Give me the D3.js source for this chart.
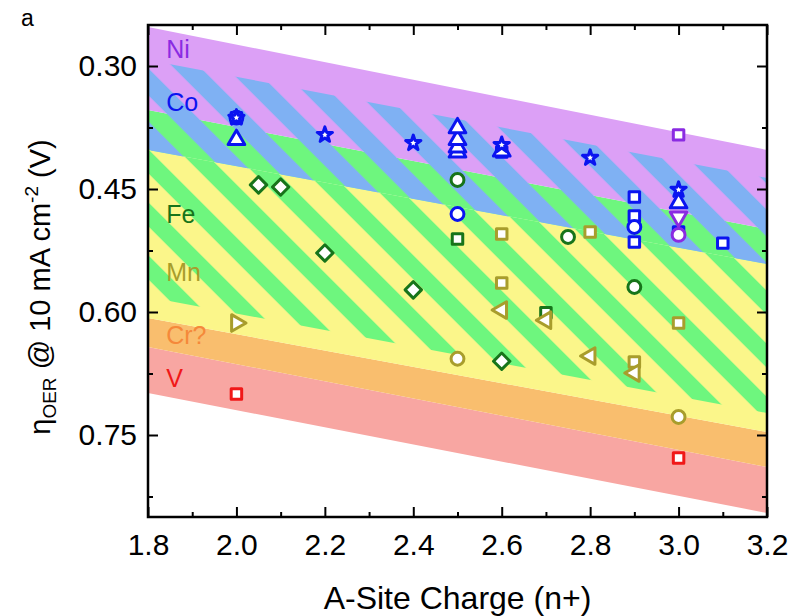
<!DOCTYPE html>
<html>
<head>
<meta charset="utf-8">
<script src="https://cdn.jsdelivr.net/npm/d3@7"></script>
<style>
  body { margin: 0; background: #fff; }
  svg { display: block; font-family: "Liberation Sans", Arial, sans-serif; }
</style>
</head>
<body>
<svg id="chart" width="795" height="616"></svg>
<script>
// Axis ticks
const xMajor = [1.8, 2.0, 2.2, 2.4, 2.6, 2.8, 3.0, 3.2];
const xMinor = [1.9, 2.1, 2.3, 2.5, 2.7, 2.9, 3.1];
const yMajor = [0.30, 0.45, 0.60, 0.75];
const yMinor = [0.375, 0.525, 0.675, 0.825];

// Band edges: overpotential at A-site charge 1.8 and 3.2
const edgeX = [1.8, 3.2];
const niTop = [0.2524, 0.4024];
const coTop = [0.2927, 0.4366];
const niBottom = [0.3537, 0.4988];
const mnTop = [0.4024, 0.5415];
const feStripeBottom = [0.5817, 0.7232];
const crTop = [0.6073, 0.7463];
const vTop = [0.6427, 0.7890];
const vBottom = [0.6988, 0.8451];

// Measured points: [A-site charge, eta (V), marker]
const coPoints = [
  [2.0, 0.363, 'square'], [2.0, 0.363, 'circle'], [2.0, 0.363, 'star'], [2.0, 0.390, 'triUp'],
  [2.2, 0.384, 'star'], [2.4, 0.394, 'star'],
  [2.5, 0.405, 'triUp'], [2.5, 0.399, 'triUp'], [2.5, 0.390, 'triUp'], [2.5, 0.3756, 'triUp'],
  [2.5, 0.4805, 'circle'],
  [2.6, 0.405, 'square'], [2.6, 0.404, 'triUp'], [2.6, 0.3963, 'star'],
  [2.8, 0.412, 'star'],
  [2.9, 0.4598, 'square'], [2.9, 0.483, 'square'], [2.9, 0.5146, 'square'], [2.9, 0.4963, 'circle'],
  [3.0, 0.5024, 'square'], [3.0, 0.467, 'triUp'], [3.0, 0.451, 'star'],
  [3.1, 0.516, 'square']
];
const niPoints = [
  [3.0, 0.384, 'square'], [3.0, 0.484, 'triDown'], [3.0, 0.506, 'circle']
];
const fePoints = [
  [2.05, 0.445, 'diamond'], [2.1, 0.4476, 'diamond'], [2.2, 0.528, 'diamond'],
  [2.4, 0.573, 'diamond'], [2.6, 0.660, 'diamond'],
  [2.5, 0.439, 'circle'], [2.5, 0.511, 'square'], [2.75, 0.5085, 'circle'],
  [2.9, 0.5695, 'circle'], [2.7, 0.601, 'square']
];
const mnPoints = [
  [2.0, 0.6134, 'triRight'], [2.5, 0.657, 'circle'],
  [2.6, 0.505, 'square'], [2.6, 0.5646, 'square'], [2.6, 0.5976, 'triLeft'],
  [2.7, 0.610, 'triLeft'], [2.8, 0.5024, 'square'], [2.8, 0.6537, 'triLeft'],
  [2.9, 0.661, 'square'], [2.9, 0.6744, 'triLeft'],
  [3.0, 0.6134, 'square'], [3.0, 0.728, 'circle']
];
const vPoints = [
  [2.0, 0.700, 'square'], [3.0, 0.778, 'square']
];

// Element labels: [text, charge, eta]
const elementLabels = [
  ['Ni', 1.841, 0.2902], ['Co', 1.841, 0.3549], ['Fe', 1.841, 0.4915],
  ['Mn', 1.841, 0.5622], ['Cr?', 1.841, 0.6390], ['V', 1.841, 0.6915]
];

const colors = {
  Ni: '#8a2be2', Co: '#0a14f0', Fe: '#17741a', Mn: '#a89d2c', 'Cr?': '#f5893a', V: '#f01818'
};

const margin = {top: 25, right: 28, bottom: 99, left: 148};
const width = 795 - margin.left - margin.right;
const height = 616 - margin.top - margin.bottom;

const svg = d3.select('#chart');
const x = d3.scaleLinear().domain([1.8, 3.2]).range([0, width]);
const y = d3.scaleLinear().domain([0.25, 0.85]).range([0, height]);

const defs = svg.append('defs');
defs.append('clipPath').attr('id', 'plotClip')
  .append('rect').attr('width', width).attr('height', height);

// stripe patterns, 45 degrees, 53px horizontal period
const period = 53 / Math.SQRT2;
const green = defs.append('pattern').attr('id', 'greenStripes')
  .attr('patternUnits', 'userSpaceOnUse')
  .attr('width', period).attr('height', period)
  .attr('patternTransform', 'rotate(-45)');
green.append('rect').attr('x', 11 / Math.SQRT2).attr('width', 24 / Math.SQRT2)
  .attr('height', period).attr('fill', '#6ef67e');

const blue = defs.append('pattern').attr('id', 'blueStripes')
  .attr('patternUnits', 'userSpaceOnUse')
  .attr('width', period).attr('height', period)
  .attr('patternTransform', 'rotate(-45)');
[36 / Math.SQRT2, 36 / Math.SQRT2 - period].forEach(x0 => {
  blue.append('rect').attr('x', x0).attr('width', 27 / Math.SQRT2)
    .attr('height', period).attr('fill', '#7fb1f3');
});

const g = svg.append('g').attr('transform', `translate(${margin.left},${margin.top})`);
const bands = g.append('g').attr('clip-path', 'url(#plotClip)');

function bandPoints(top, bot) {
  return [
    [x(edgeX[0]), y(top[0])], [x(edgeX[1]), y(top[1])],
    [x(edgeX[1]), y(bot[1])], [x(edgeX[0]), y(bot[0])]
  ].join(' ');
}

const bandList = [
  [vTop, vBottom, '#f8a6a2'],
  [crTop, vTop, '#f9be6e'],
  [mnTop, crTop, '#fbf68a'],
  [niBottom, mnTop, '#6ef67e'],
  [niTop, niBottom, '#dca0f6'],
  [mnTop, feStripeBottom, 'url(#greenStripes)'],
  [coTop, mnTop, 'url(#blueStripes)']
];
bands.selectAll('polygon').data(bandList).enter().append('polygon')
  .attr('points', d => bandPoints(d[0], d[1]))
  .attr('fill', d => d[2]);

// element labels
g.append('g').selectAll('text').data(elementLabels).enter().append('text')
  .attr('x', d => x(d[1])).attr('y', d => y(d[2]))
  .attr('fill', d => colors[d[0]])
  .attr('font-size', 25)
  .text(d => d[0]);

// markers
const symbolSize = {square: 110, circle: 130, star: 72, triUp: 120, triDown: 120,
  triLeft: 120, triRight: 120, diamond: 135};
const symbolType = {square: d3.symbolSquare, circle: d3.symbolCircle, star: d3.symbolStar,
  triUp: d3.symbolTriangle, triDown: d3.symbolTriangle, triLeft: d3.symbolTriangle,
  triRight: d3.symbolTriangle, diamond: d3.symbolSquare};
const symbolRotate = {triDown: 180, triLeft: -90, triRight: 90, diamond: 45};

function drawPoints(points, color) {
  g.append('g').selectAll('path').data(points).enter().append('path')
    .attr('d', d => d3.symbol().type(symbolType[d[2]]).size(symbolSize[d[2]])())
    .attr('transform', d => `translate(${x(d[0])},${y(d[1])}) rotate(${symbolRotate[d[2]] || 0})`)
    .attr('fill', '#fff')
    .attr('stroke', color)
    .attr('stroke-linejoin', 'round')
    .attr('stroke-width', 3);
}
drawPoints(coPoints, colors.Co);
drawPoints(niPoints, colors.Ni);
drawPoints(fePoints, colors.Fe);
drawPoints(mnPoints, colors.Mn);
drawPoints(vPoints, colors.V);

// axes, ticks inside on all four sides
const tickFont = 30;
function styleAxis(sel) {
  sel.select('.domain').remove();
  sel.selectAll('line').attr('stroke', '#000').attr('stroke-width', 2);
  sel.selectAll('text').attr('font-size', tickFont).attr('fill', '#000')
    .attr('font-family', '"Liberation Sans", Arial, sans-serif');
}

g.append('g').attr('transform', `translate(0,${height})`)
  .call(d3.axisBottom(x).tickValues(xMajor).tickFormat(d3.format('.1f')).tickSize(-10).tickPadding(17))
  .call(styleAxis);
g.append('g').attr('transform', `translate(0,${height})`)
  .call(d3.axisBottom(x).tickValues(xMinor).tickFormat('').tickSize(-5))
  .call(styleAxis);
g.append('g')
  .call(d3.axisTop(x).tickValues(xMajor).tickFormat('').tickSize(-10))
  .call(styleAxis);
g.append('g')
  .call(d3.axisTop(x).tickValues(xMinor).tickFormat('').tickSize(-5))
  .call(styleAxis);

g.append('g')
  .call(d3.axisLeft(y).tickValues(yMajor).tickFormat(d3.format('.2f')).tickSize(-10).tickPadding(11))
  .call(styleAxis);
g.append('g')
  .call(d3.axisLeft(y).tickValues(yMinor).tickFormat('').tickSize(-5))
  .call(styleAxis);
g.append('g').attr('transform', `translate(${width},0)`)
  .call(d3.axisRight(y).tickValues(yMajor).tickFormat('').tickSize(-10))
  .call(styleAxis);
g.append('g').attr('transform', `translate(${width},0)`)
  .call(d3.axisRight(y).tickValues(yMinor).tickFormat('').tickSize(-5))
  .call(styleAxis);

g.append('rect').attr('width', width).attr('height', height)
  .attr('fill', 'none').attr('stroke', '#000').attr('stroke-width', 2.5);

// titles
svg.append('text')
  .attr('x', margin.left + width / 2).attr('y', 609)
  .attr('text-anchor', 'middle').attr('font-size', 32)
  .text('A-Site Charge (n+)');

const yTitle = svg.append('text')
  .attr('transform', 'translate(50,287) rotate(-90)')
  .attr('text-anchor', 'middle').attr('font-size', 29);
yTitle.append('tspan').text('η');
yTitle.append('tspan').attr('font-size', 19).attr('dy', 6).text('OER');
yTitle.append('tspan').attr('dy', -6).text(' @ 10 mA cm');
yTitle.append('tspan').attr('font-size', 19).attr('dy', -12).text('-2');
yTitle.append('tspan').attr('dy', 12).text(' (V)');

svg.append('text').attr('x', 21).attr('y', 26).attr('font-size', 23).text('a');
</script>
</body>
</html>
